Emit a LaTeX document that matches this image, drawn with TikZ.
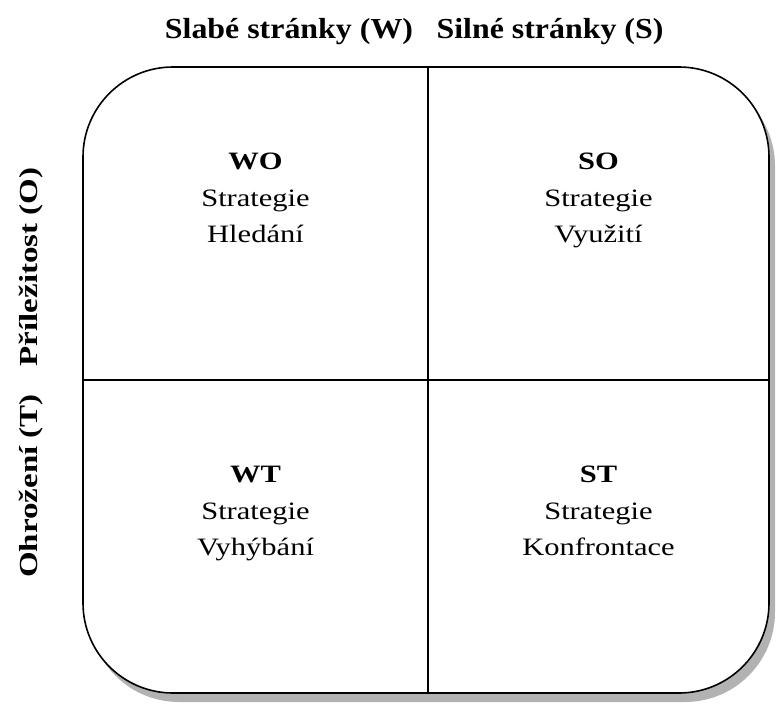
\documentclass[tikz,border=0pt]{standalone}
\usepackage{fontspec}
\setmainfont{Liberation Serif}
\newfontfamily\bunkafont{Liberation Serif}[FakeStretch=1.22]
\newfontfamily\hornifont{Liberation Serif}[FakeStretch=1.1]
\newfontfamily\bocnifont{Liberation Serif}[FakeStretch=1.27]
\usetikzlibrary{shadows}

\begin{document}
\begin{tikzpicture}[
    x=1pt, y=-1pt,
    ramecek/.style={draw=black,line width=1.6pt,rounded corners=90pt,fill=white,
      drop shadow={shadow xshift=6pt,shadow yshift=-9pt,fill=black!30,opacity=1}},
    cara/.style={line width=1.4pt},
    bunka/.style={anchor=north,align=center,inner sep=0pt,
      font=\bunkafont\fontsize{25}{36.5}\selectfont},
    popisek/.style={anchor=base,inner sep=0pt,
      font=\hornifont\bfseries\fontsize{29}{34}\selectfont},
    bocni/.style={anchor=base,rotate=90,inner sep=0pt,
      font=\bocnifont\bfseries\fontsize{26}{30}\selectfont}]

  \useasboundingbox (0,0) rectangle (776,704);

  \coordinate (lh) at (83,67);      % levy horni roh
  \coordinate (pd) at (769,693);    % pravy dolni roh
  \coordinate (horni) at (428,67);
  \coordinate (dolni) at (428,693);
  \coordinate (leva)  at (83,380);
  \coordinate (prava) at (769,380);

  \draw[ramecek] (lh) rectangle (pd);
  \draw[cara] (horni) -- (dolni);
  \draw[cara] (leva) -- (prava);

  % popisky os
  \node[popisek] (slabe) at (289,38) {Slabé stránky (W)};
  \node[popisek] (silne) at (550,38) {Silné stránky (S)};
  \node[bocni] (prilezitost) at (37,267) {Příležitost (O)};
  \node[bocni] (ohrozeni)    at (37,486) {Ohrožení (T)};

  % ctyri strategie
  \node[bunka] (wo) at (255.5,153) {\textbf{WO}\\Strategie\\Hledání};
  \node[bunka] (so) at (598.5,153) {\textbf{SO}\\Strategie\\Využití};
  \node[bunka] (wt) at (255.5,466) {\textbf{WT}\\Strategie\\Vyhýbání};
  \node[bunka] (st) at (598.5,466) {\textbf{ST}\\Strategie\\Konfrontace};

\end{tikzpicture}
\end{document}
